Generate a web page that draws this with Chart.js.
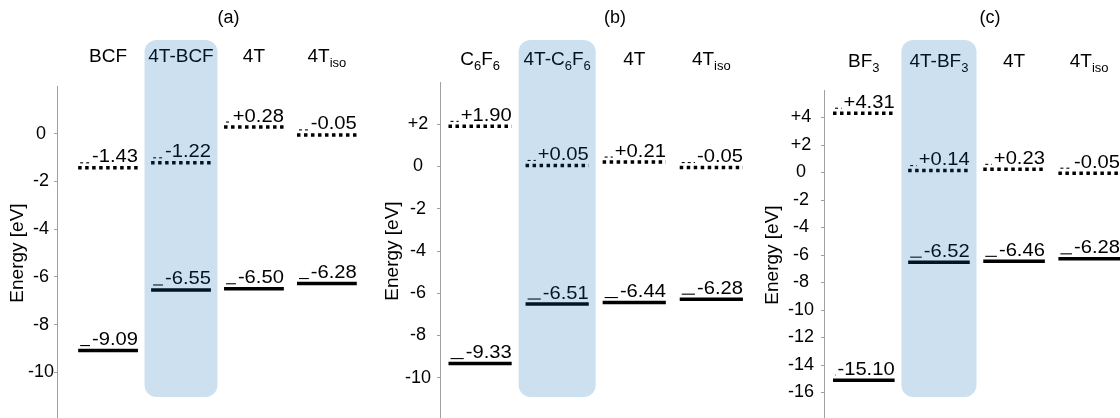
<!DOCTYPE html>
<html>
<head>
<meta charset="utf-8">
<script src="https://cdn.jsdelivr.net/npm/chart.js@4.4.1/dist/chart.umd.min.js"></script>
<style>
  html, body { margin: 0; padding: 0; background: #fff; overflow: hidden; width: 1120px; height: 418px; }
  canvas { position: absolute; top: 0; }
</style>
</head>
<body>
<canvas id="panelA" width="373" height="420" style="left:0px"></canvas>
<canvas id="panelB" width="374" height="420" style="left:373px"></canvas>
<canvas id="panelC" width="373" height="420" style="left:747px"></canvas>
<script>
// ---- data ----
// headers: a piece starting with "_" is drawn as a subscript
const headersA = [["BCF"], ["4T-BCF"], ["4T"], ["4T", "_iso"]];
const lumoA = [-1.43, -1.22, 0.28, -0.05];
const homoA = [-9.09, -6.55, -6.50, -6.28];
const ticksA = [0, -2, -4, -6, -8, -10];

const headersB = [["C", "_6", "F", "_6"], ["4T-C", "_6", "F", "_6"], ["4T"], ["4T", "_iso"]];
const lumoB = [1.90, 0.05, 0.21, -0.05];
const homoB = [-9.33, -6.51, -6.44, -6.28];
const ticksB = [2, 0, -2, -4, -6, -8, -10];

const headersC = [["BF", "_3"], ["4T-BF", "_3"], ["4T"], ["4T", "_iso"]];
const lumoC = [4.31, 0.14, 0.23, -0.05];
const homoC = [-15.10, -6.52, -6.46, -6.28];
const ticksC = [4, 2, 0, -2, -4, -6, -8, -10, -12, -14, -16];

const FONT = '"Liberation Sans", Arial, sans-serif';
const HALF = 0.41;        // half length of a level line, in column units
const STRETCH = 1.12;     // labels in the picture are a bit wide
const BOX = "rgba(0, 100, 180, 0.2)";

function fmtVal(v) {
    return (v > 0 ? "+" : "") + v.toFixed(2);
}

function fmtTick(v) {
    return v > 0 ? "+" + v : String(v);
}

const levelLabels = {
    id: "levelLabels",
    afterDatasetsDraw(chart) {
        const { ctx, scales: { x, y } } = chart;
        ctx.save();
        chart.data.datasets.forEach(ds => {
            const x0 = x.getPixelForValue(ds.data[0].x);
            const x1 = x.getPixelForValue(ds.data[1].x);
            const py = y.getPixelForValue(ds.data[0].y);
            const txt = fmtVal(ds.data[0].y);
            ctx.font = "18px " + FONT;
            const w = ctx.measureText(txt).width * STRETCH;
            const yb = py - 5.5;
            ctx.strokeStyle = "#000";
            ctx.lineWidth = 1.1;
            ctx.setLineDash(ds.borderDash ? [3, 3] : []);
            ctx.beginPath();
            ctx.moveTo(x0 + 2, yb + 0.5);
            ctx.lineTo(x1 - w - 2, yb + 0.5);
            ctx.stroke();
            ctx.setLineDash([]);
            ctx.save();
            ctx.translate(x1, yb);
            ctx.scale(STRETCH, 1);
            ctx.fillStyle = "#000";
            ctx.textAlign = "right";
            ctx.textBaseline = "alphabetic";
            ctx.fillText(txt, 0, 0);
            ctx.restore();
        });
        ctx.restore();
    }
};

const headerAndBox = {
    id: "headerAndBox",
    afterDraw(chart, args, opts) {
        const { ctx, scales: { x } } = chart;
        ctx.save();
        ctx.fillStyle = "#000";
        ctx.textBaseline = "middle";
        // column headers
        opts.headers.forEach((parts, i) => {
            const widths = parts.map(p => {
                ctx.font = (p[0] === "_" ? "13px " : "19px ") + FONT;
                return ctx.measureText(p.replace("_", "")).width;
            });
            const total = widths.reduce((a, b) => a + b, 0);
            let cx = x.getPixelForValue(i) - total / 2;
            ctx.textAlign = "left";
            parts.forEach((p, k) => {
                const sub = p[0] === "_";
                ctx.font = (sub ? "13px " : "19px ") + FONT;
                ctx.fillText(p.replace("_", ""), cx, opts.headerY + (sub ? 6 : 0));
                cx += widths[k];
            });
        });
        // panel tag
        ctx.font = "18px " + FONT;
        ctx.textAlign = "center";
        ctx.fillText(opts.tag, x.getPixelForValue(opts.tagX), 18);
        // highlighted complex column, drawn over the levels
        const l = x.getPixelForValue(1 - 0.5), r = x.getPixelForValue(1 + 0.5);
        ctx.fillStyle = BOX;
        ctx.beginPath();
        ctx.roundRect(l, 40, r - l, 357, 12);
        ctx.fill();
        ctx.restore();
    }
};

function makePanel(id, lay, headers, lumo, homo, ticks, tag) {
    const datasets = [];
    headers.forEach((h, i) => {
        datasets.push({
            data: [{ x: i - HALF, y: homo[i] }, { x: i + HALF, y: homo[i] }],
            borderColor: "#000", borderWidth: 3.5, pointRadius: 0
        });
        datasets.push({
            data: [{ x: i - HALF, y: lumo[i] }, { x: i + HALF, y: lumo[i] }],
            borderColor: "#000", borderWidth: 3.5, borderDash: [3.5, 3.5], pointRadius: 0
        });
    });
    return new Chart(document.getElementById(id), {
        type: "line",
        data: { datasets },
        options: {
            responsive: false,
            animation: false,
            events: [],
            layout: { padding: { top: lay.padTop, bottom: 0, left: 0, right: lay.padRight } },
            plugins: {
                legend: { display: false },
                tooltip: { enabled: false },
                headerAndBox: { headers, tag, headerY: lay.headerY, tagX: lay.tagX }
            },
            scales: {
                x: { type: "linear", display: false, min: lay.xMin, max: lay.xMax },
                y: {
                    min: lay.yMin, max: lay.yMax,
                    afterBuildTicks: s => { s.ticks = ticks.map(v => ({ value: v })); },
                    afterFit: s => { s.width = lay.axisW; s.paddingTop = 0; s.paddingBottom = 0; },
                    border: { color: "#a0a0a0", width: 1 },
                    grid: { drawOnChartArea: false, tickLength: 3, color: "#a0a0a0" },
                    ticks: {
                        callback: v => fmtTick(v),
                        crossAlign: "center",
                        padding: lay.tickPad,
                        color: "#000",
                        font: { family: FONT, size: 18 }
                    },
                    title: {
                        display: true,
                        text: "Energy [eV]",
                        color: "#000",
                        font: { family: FONT, size: 19 },
                        padding: { top: lay.titlePad, bottom: 0 }
                    }
                }
            }
        },
        plugins: [levelLabels, headerAndBox]
    });
}

makePanel("panelA",
    { padTop: 86, padRight: 6, axisW: 57, xMin: -0.70, xMax: 3.55, yMin: -12, yMax: 2, headerY: 57, tagX: 1.65, titlePad: 6, tickPad: 0 },
    headersA, lumoA, homoA, ticksA, "(a)");
makePanel("panelB",
    { padTop: 82, padRight: 1, axisW: 67, xMin: -0.52, xMax: 3.45, yMin: -12, yMax: 4, headerY: 60, tagX: 1.75, titlePad: 8, tickPad: 6 },
    headersB, lumoB, homoB, ticksB, "(b)");
makePanel("panelC",
    { padTop: 90, padRight: 0, axisW: 77, xMin: -0.53, xMax: 3.41, yMin: -18, yMax: 6, headerY: 62, tagX: 1.68, titlePad: 14, tickPad: 7 },
    headersC, lumoC, homoC, ticksC, "(c)");
</script>
</body>
</html>
